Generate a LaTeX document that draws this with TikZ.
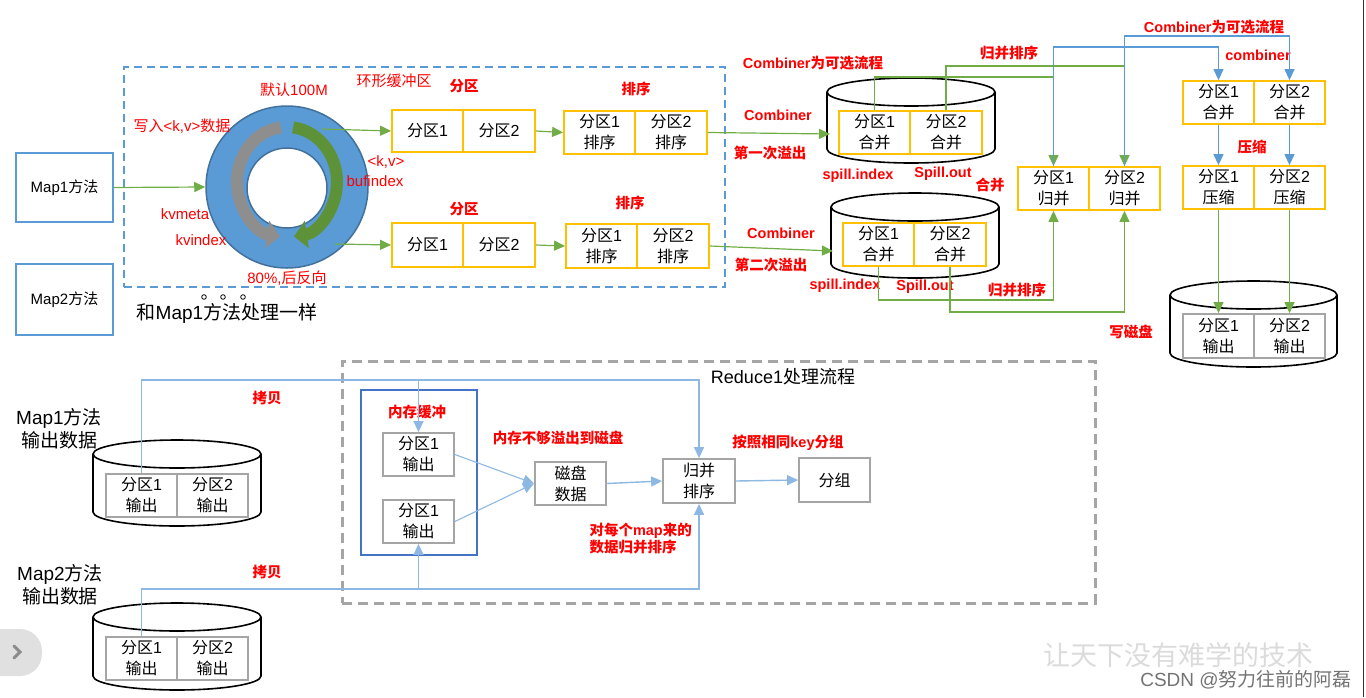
\documentclass[tikz,border=0pt]{standalone}
\usepackage{fontspec}
\setmainfont{Liberation Sans}
\newfontfamily\cjkfont{Noto Sans CJK SC}
% Przełączanie czcionki dla znaków CJK
\XeTeXinterchartokenstate=1
\newXeTeXintercharclass\cjkclass
\count255="3000
\loop\ifnum\count255<"3040 \XeTeXcharclass\count255=\cjkclass \advance\count255 by 1 \repeat
\count255="4E00
\loop\ifnum\count255<"A000 \XeTeXcharclass\count255=\cjkclass \advance\count255 by 1 \repeat
\count255="FF00
\loop\ifnum\count255<"FFF0 \XeTeXcharclass\count255=\cjkclass \advance\count255 by 1 \repeat
\XeTeXinterchartoks 0 \cjkclass = {\cjkfont}
\XeTeXinterchartoks 4095 \cjkclass = {\cjkfont}
\XeTeXinterchartoks \cjkclass 0 = {\rmfamily}
\usetikzlibrary{arrows.meta}
\definecolor{boxblue}{HTML}{5B9BD5}
\definecolor{ringedge}{HTML}{41719C}
\definecolor{flowgreen}{HTML}{70AD47}
\definecolor{ringgreen}{HTML}{5E9239}
\definecolor{ringgray}{HTML}{8E8E8E}
\definecolor{boxorange}{HTML}{FFC000}
\definecolor{boxgray}{HTML}{A5A5A5}
\definecolor{memblue}{HTML}{4472C4}
\definecolor{lightblue}{HTML}{8DB8E3}
\definecolor{labelred}{HTML}{FF0000}

% Dysk: x1, x2, środek górnej elipsy, środek dolnej elipsy
\newcommand{\dysk}[4]{%
  \draw[line width=1.6pt] ({(#1+#2)/2},#3) ellipse ({(#2-#1)/2} and 14);
  \draw[line width=1.6pt] (#1,#3) -- (#1,#4)
    arc[start angle=180, end angle=0, x radius={(#2-#1)/2}, y radius=14] -- (#2,#3);}

\begin{document}
\begin{tikzpicture}[x=1pt, y=-1pt,
  cell/.style={draw=boxorange, line width=1.8pt, minimum width=71pt, minimum height=43pt,
    inner sep=0pt, align=center, font=\fontsize{16}{21}\selectfont},
  gcell/.style={cell, draw=boxgray},
  lbl/.style={text=labelred, font=\bfseries\fontsize{14.5}{18}\selectfont},
  note/.style={text=labelred, font=\fontsize{15}{18}\selectfont},
  big/.style={align=center, font=\fontsize{19}{23}\selectfont},
  gflow/.style={draw=flowgreen, line width=1.2pt, -{Triangle[length=11pt,width=10pt]}},
  bflow/.style={draw=boxblue, line width=1.2pt, -{Triangle[length=11pt,width=10pt]}},
  lline/.style={draw=lightblue, line width=1.4pt},
  lflow/.style={lline, -{Triangle[length=11pt,width=10pt]}},
  mapbox/.style={draw=boxblue, line width=2pt, minimum width=97pt, minimum height=69pt,
    inner sep=0pt, font=\fontsize{15}{18}\selectfont}]
    \useasboundingbox (0,0) rectangle (1366,697);

    % Map
    \node[mapbox] (map1) at (64.5,187.5) {Map1方法};
    \node[mapbox, minimum height=71pt] (map2) at (64.5,299.5) {Map2方法};
    \node[big] (same) at (227,313) {和Map1方法处理一样};
    \foreach \x in {204,223,243} \draw[line width=0.8pt] (\x,297) circle (2.3);

    % Bufor kołowy
    \node[draw=boxblue, line width=2pt, dash pattern=on 8pt off 5pt,
      minimum width=601pt, minimum height=220pt] (buf) at (424.5,177) {};
    \node[circle, fill=boxblue, draw=ringedge, line width=1.5pt, minimum size=162pt,
      inner sep=0pt] (ring) at (287,187) {};
    \node[circle, fill=white, draw=ringedge, line width=1.5pt, minimum size=80pt,
      inner sep=0pt] (hole) at (287,188) {};
    \begin{scope}[shift={(287,182)}, x=1pt, y=1pt]
        \draw[line width=12pt, draw=ringgray, -{Triangle[length=13pt,width=27pt]}]
            (97:50 and 55) arc[start angle=97, end angle=262, x radius=50, y radius=55];
        \draw[line width=12pt, draw=ringgreen, -{Triangle[length=13pt,width=27pt]}]
            (83:50 and 55) arc[start angle=83, end angle=-82, x radius=50, y radius=55];
    \end{scope}
    \node[note] (n100) at (294,90) {默认100M};
    \node[note] (nring) at (394,81) {环形缓冲区};
    \node[note] (nwrite) at (182,126) {写入<k,v>数据};
    \node[note] (nmeta) at (185,214) {kvmeta};
    \node[note] (nkvi) at (201,240) {kvindex};
    \node[note] (n80) at (287,278) {80\%,后反向};
    \node[note] (nkv) at (386,162) {<k,v>};
    \node[note] (nbuf) at (375,181) {bufindex};

    % Partycje i sortowanie
    \node[cell, minimum height=42pt] (p11) at (427.5,131) {分区1};
    \node[cell, minimum height=42pt, minimum width=72pt] (p12) at (499,131) {分区2};
    \node[cell, minimum height=44pt] (p21) at (427.5,245) {分区1};
    \node[cell, minimum height=44pt, minimum width=72pt] (p22) at (499,245) {分区2};
    \node[cell] (s11) at (599.5,132.5) {分区1\\排序};
    \node[cell, minimum width=72pt] (s12) at (671,132.5) {分区2\\排序};
    \node[cell, minimum height=44pt] (s21) at (601.5,246) {分区1\\排序};
    \node[cell, minimum height=44pt, minimum width=72pt] (s22) at (673,246) {分区2\\排序};
    \node[lbl] (lp1) at (464,86) {分区};
    \node[lbl] (lp2) at (464,209) {分区};
    \node[lbl] (ls1) at (636,89) {排序};
    \node[lbl] (ls2) at (630,203) {排序};

    % Przelewy na dysk
    \dysk{827}{995}{92}{149}
    \dysk{831}{999}{207}{264}
    \node[cell] (h11) at (874.5,132.5) {分区1\\合并};
    \node[cell, minimum width=72pt] (h12) at (946,132.5) {分区2\\合并};
    \node[cell] (h21) at (878.5,244.5) {分区1\\合并};
    \node[cell, minimum width=72pt] (h22) at (950,244.5) {分区2\\合并};
    \node[lbl] (lc0) at (813,63) {Combiner为可选流程};
    \node[lbl] (lc1) at (778,115) {Combiner};
    \node[lbl] (lc2) at (781,233) {Combiner};
    \node[lbl] (lsp1) at (770,153) {第一次溢出};
    \node[lbl] (lsp2) at (771,265) {第二次溢出};
    \node[lbl] (li1) at (858,176) {spill.index};
    \node[lbl] (li2) at (845,286) {spill.index};
    \node[lbl] (lo1) at (943,174) {Spill.out};
    \node[lbl] (lo2) at (925,287) {Spill.out};
    \node[lbl] (lhb) at (990,185) {合并};
    \node[lbl] (lgb1) at (1009,53) {归并排序};
    \node[lbl] (lgb2) at (1017,290) {归并排序};

    % Scalanie, kompresja, zapis
    \node[cell] (m21) at (1053.5,188.5) {分区1\\归并};
    \node[cell] (m22) at (1124.5,188.5) {分区2\\归并};
    \node[cell] (k1) at (1218.5,102.5) {分区1\\合并};
    \node[cell] (k2) at (1289.5,102.5) {分区2\\合并};
    \node[cell] (z1) at (1218.5,187.5) {分区1\\压缩};
    \node[cell] (z2) at (1289.5,187.5) {分区2\\压缩};
    \dysk{1170}{1337}{295}{353}
    \node[gcell, minimum height=44pt] (o1) at (1218.5,336) {分区1\\输出};
    \node[gcell, minimum height=44pt] (o2) at (1289.5,336) {分区2\\输出};
    \node[lbl] (lc3) at (1214,27) {Combiner为可选流程};
    \node[lbl] (lc4) at (1258,55) {combiner};
    \node[lbl] (lz) at (1252,147) {压缩};
    \node[lbl] (lw) at (1131,332) {写磁盘};

    % Połączenia (góra)
    \coordinate (r1) at (322,129);
    \coordinate (r2) at (335,244);
    \coordinate (d1w) at (830,134);
    \coordinate (d2w) at (833,251);
    \draw[gflow] (map1.east) -- (ring.west);
    \draw[gflow] (r1) -- (p11.west);
    \draw[gflow] (r2) -- (p21.west);
    \draw[gflow] (p12.east) -- (s11.west);
    \draw[gflow] (p22.east) -- (s21.west);
    \draw[gflow] (s12.east) -- (d1w);
    \draw[gflow] (s22.east) -- (d2w);
    \draw[gflow] (h11.north) -- (h11.north |- 0,77) -| (m21.north);
    \draw[gflow] (h12.north) -- (h12.north |- 0,66) -| (m22.north);
    \draw[gflow] (h21.south) -- (h21.south |- 0,300) -| (m21.south);
    \draw[gflow] (h22.south) -- (h22.south |- 0,312) -| (m22.south);
    \draw[bflow] (m21.north) -- (m21.north |- 0,47) -| (k1.north);
    \draw[bflow] (m22.north) -- (m22.north |- 0,36) -| (k2.north);
    \draw[bflow] (k1.south) -- (z1.north);
    \draw[bflow] (k2.south) -- (z2.north);
    \draw[gflow] (z1.south) -- (o1.north);
    \draw[gflow] (z2.south) -- (o2.north);

    % Reduce
    \node[draw=boxgray, line width=3pt, dash pattern=on 10pt off 6pt,
      minimum width=753pt, minimum height=242pt] (reduce) at (718.5,482) {};
    \node[font=\fontsize{18}{20}\selectfont] (lred) at (783,377) {Reduce1处理流程};
    \node[draw=memblue, line width=2pt, minimum width=116pt, minimum height=165pt] (mem) at (419,472.5) {};
    \node[gcell] (b1) at (418.5,454.5) {分区1\\输出};
    \node[gcell] (b2) at (418.5,521.5) {分区1\\输出};
    \node[gcell] (disk) at (570.5,483.5) {磁盘\\数据};
    \node[gcell, minimum width=72pt, minimum height=44pt] (mg) at (699,481) {归并\\排序};
    \node[gcell, minimum height=44pt] (grp) at (834.5,480) {分组};
    \node[lbl] (lmem) at (417,412) {内存缓冲};
    \node[lbl] (lspill) at (558,438) {内存不够溢出到磁盘};
    \node[lbl] (lgrp) at (788,443) {按照相同key分组};
    \node[lbl, anchor=west, align=left, font=\bfseries\fontsize{14.5}{17}\selectfont] (lmrg) at (586,539)
        {对每个map来的\\数据归并排序};

    % Wyjście map
    \node[big] (out1) at (59,429) {Map1方法\\输出数据};
    \node[big] (out2) at (60,585) {Map2方法\\输出数据};
    \dysk{93}{261}{454}{512}
    \dysk{93}{261}{617}{676}
    \node[gcell] (a11) at (141.5,495.5) {分区1\\输出};
    \node[gcell] (a12) at (212.5,495.5) {分区2\\输出};
    \node[gcell] (a21) at (141.5,658.5) {分区1\\输出};
    \node[gcell] (a22) at (212.5,658.5) {分区2\\输出};
    \node[lbl] (lcp1) at (267,398) {拷贝};
    \node[lbl] (lcp2) at (267,572) {拷贝};

    % Połączenia (dół)
    \draw[lflow] (a11.north) -- (a11.north |- 0,380) -| (mg.north);
    \draw[lflow] (b1.north |- 0,380) -- (b1.north);
    \draw[lflow] (a21.north) -- (a21.north |- 0,589) -| (mg.south);
    \draw[lflow] (b2.south |- 0,589) -- (b2.south);
    \draw[lflow, line width=1.1pt] (b1.east) -- (disk.west);
    \draw[lflow, line width=1.1pt] (b2.east) -- (disk.west);
    \draw[lflow] (disk.east) -- (mg.west);
    \draw[lflow] (mg.east) -- (grp.west);

    % Ramka zrzutu ekranu
    \draw[line width=1pt, black!80] (1363,0) -- (1363,697);
    \fill[black!12, rounded corners=22pt] (-30,629) rectangle (42,676);
    \draw[line width=3pt, black!45, line cap=round] (14,646) -- (20,652) -- (14,658);
    \node[text=black!14, font=\fontsize{27}{27}\selectfont] (wm) at (1178,655) {让天下没有难学的技术};
    \node[text=black!55, font=\fontsize{19}{19}\selectfont] (csdn) at (1246,680) {CSDN @努力往前的阿磊};
\end{tikzpicture}
\end{document}
